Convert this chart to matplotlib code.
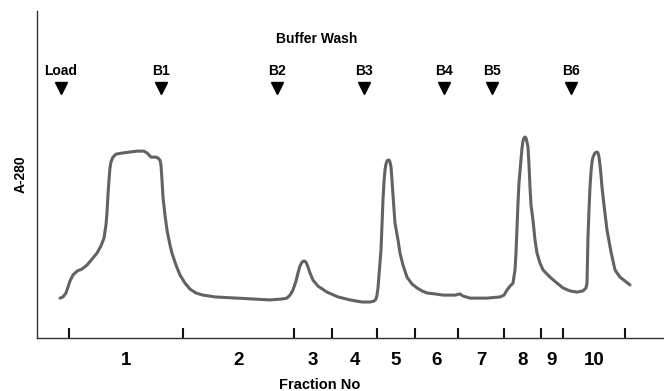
import matplotlib
matplotlib.use("Agg")
import matplotlib.pyplot as plt

plt.rcParams['font.family'] = ['Liberation Sans', 'DejaVu Sans']

# elution trace (volume, A-280)
vol = [4.6, 5.2, 5.8, 6.2, 6.6, 7.2, 8.0, 9.0, 10.0, 11.0, 12.0, 12.8, 13.4, 13.8,
       14.0, 14.2, 14.4, 14.6, 14.8, 15.2, 15.8, 17.2, 20.0, 21.4, 22.0, 22.4, 22.8,
       23.2, 23.8, 24.2, 24.6, 24.8, 25.0, 25.2, 25.6, 26.0, 26.6, 27.0, 27.8, 28.6,
       29.6, 30.6, 31.8, 33.2, 35.6, 40.0, 46.6, 49.0, 50.0, 50.6, 51.2, 51.8, 52.2,
       52.6, 53.0, 53.4, 53.8, 54.2, 54.6, 55.2, 56.2, 58.0, 60.2, 62.6, 65.0, 66.6,
       67.4, 67.8, 68.0, 68.2, 68.4, 68.8, 69.0, 69.2, 69.4, 69.6, 69.8, 70.0, 70.2,
       70.4, 70.6, 70.8, 71.0, 71.2, 71.6, 72.2, 72.6, 73.2, 74.0, 75.0, 76.0, 77.0,
       78.0, 79.6, 81.2, 83.6, 84.6, 85.2, 85.8, 86.6, 90.0, 92.6, 93.4, 94.0, 94.6,
       95.2, 95.6, 95.8, 96.0, 96.2, 96.4, 96.8, 97.0, 97.2, 97.4, 97.6, 97.8, 98.0,
       98.2, 98.4, 98.6, 98.8, 99.2, 99.6, 100.0, 100.6, 101.2, 102.6, 104.0, 105.2,
       106.6, 108.0, 109.2, 109.8, 110.0, 110.1, 110.2, 110.4, 110.6, 110.8, 111.0,
       111.2, 111.6, 112.0, 112.2, 112.4, 112.6, 112.8, 113.0, 113.4, 114.0, 114.8,
       115.6, 116.6, 117.6, 118.6]
a280 = [0.133, 0.137, 0.150, 0.170, 0.190, 0.210, 0.223, 0.230, 0.243, 0.263, 0.283,
        0.307, 0.333, 0.377, 0.417, 0.477, 0.527, 0.567, 0.587, 0.603, 0.613, 0.617,
        0.623, 0.623, 0.617, 0.610, 0.603, 0.603, 0.603, 0.600, 0.593, 0.577, 0.527,
        0.470, 0.410, 0.360, 0.310, 0.283, 0.243, 0.210, 0.183, 0.163, 0.150, 0.143,
        0.137, 0.133, 0.127, 0.130, 0.133, 0.143, 0.160, 0.190, 0.217, 0.240, 0.253,
        0.257, 0.253, 0.237, 0.217, 0.193, 0.173, 0.153, 0.137, 0.127, 0.120, 0.120,
        0.123, 0.130, 0.143, 0.167, 0.210, 0.293, 0.377, 0.460, 0.520, 0.560, 0.580,
        0.590, 0.593, 0.593, 0.587, 0.570, 0.527, 0.477, 0.383, 0.327, 0.283, 0.243,
        0.203, 0.180, 0.167, 0.157, 0.150, 0.147, 0.143, 0.143, 0.147, 0.140, 0.137,
        0.133, 0.133, 0.137, 0.143, 0.160, 0.173, 0.183, 0.227, 0.283, 0.367, 0.450,
        0.517, 0.593, 0.633, 0.657, 0.667, 0.670, 0.667, 0.653, 0.637, 0.577, 0.503,
        0.443, 0.393, 0.327, 0.283, 0.250, 0.227, 0.203, 0.183, 0.167, 0.157, 0.153,
        0.157, 0.167, 0.183, 0.260, 0.337, 0.427, 0.503, 0.553, 0.587, 0.603, 0.617,
        0.620, 0.617, 0.603, 0.577, 0.543, 0.503, 0.443, 0.360, 0.287, 0.227, 0.203,
        0.190, 0.177]

# fraction boundaries and numbers
frac_edges = [6.4, 29.2, 51.4, 59.0, 68.0, 75.6, 84.2, 93.4, 100.8, 105.2, 117.6]
frac_labels = ['1', '2', '3', '4', '5', '6', '7', '8', '9', '10']

# buffer additions
step_names = ['Load', 'B1', 'B2', 'B3', 'B4', 'B5', 'B6']
step_vol = [4.8, 24.8, 48.0, 65.4, 81.4, 91.0, 106.8]

fig = plt.figure(figsize=(6.64, 3.91), dpi=100)
ax = fig.add_axes([0.0557, 0.1355, 0.9443, 0.8363])

ax.plot(vol, a280, color='#626262', lw=2.2, solid_capstyle='round',
        solid_joinstyle='round')

ax.set_xlim(0, 125.4)
ax.set_ylim(0, 1.09)

for s in ['top', 'right']:
    ax.spines[s].set_visible(False)
for s in ['left', 'bottom']:
    ax.spines[s].set_color('#333333')
    ax.spines[s].set_linewidth(1.0)

ax.set_yticks([])
ax.set_xticks(frac_edges)
ax.set_xticklabels([])
ax.tick_params(axis='x', direction='in', length=7, width=1.5, color='#111111')

# fraction numbers between boundaries
for i, lab in enumerate(frac_labels):
    mid = (frac_edges[i] + frac_edges[i + 1]) / 2
    ax.text(mid, -0.07, lab, ha='center', va='center', fontsize=13.5,
            fontweight='bold', transform=ax.get_xaxis_transform(), clip_on=False)

ax.text(56.5, -0.145, 'Fraction No', ha='center', va='center', fontsize=10.5,
        fontweight='bold', transform=ax.get_xaxis_transform(), clip_on=False)
ax.set_ylabel('A-280', fontsize=10, fontweight='bold', labelpad=7)

# load / buffer wash markers
ax.plot(step_vol, [0.833] * len(step_vol), 'v', color='black', ms=8, clip_on=False)
for name, v in zip(step_names, step_vol):
    ax.text(v, 0.89, name, ha='center', va='center', fontsize=10, fontweight='bold')
ax.text(56.0, 0.997, 'Buffer Wash', ha='center', va='center', fontsize=10,
        fontweight='bold')

fig.savefig('out.png', dpi=100)
